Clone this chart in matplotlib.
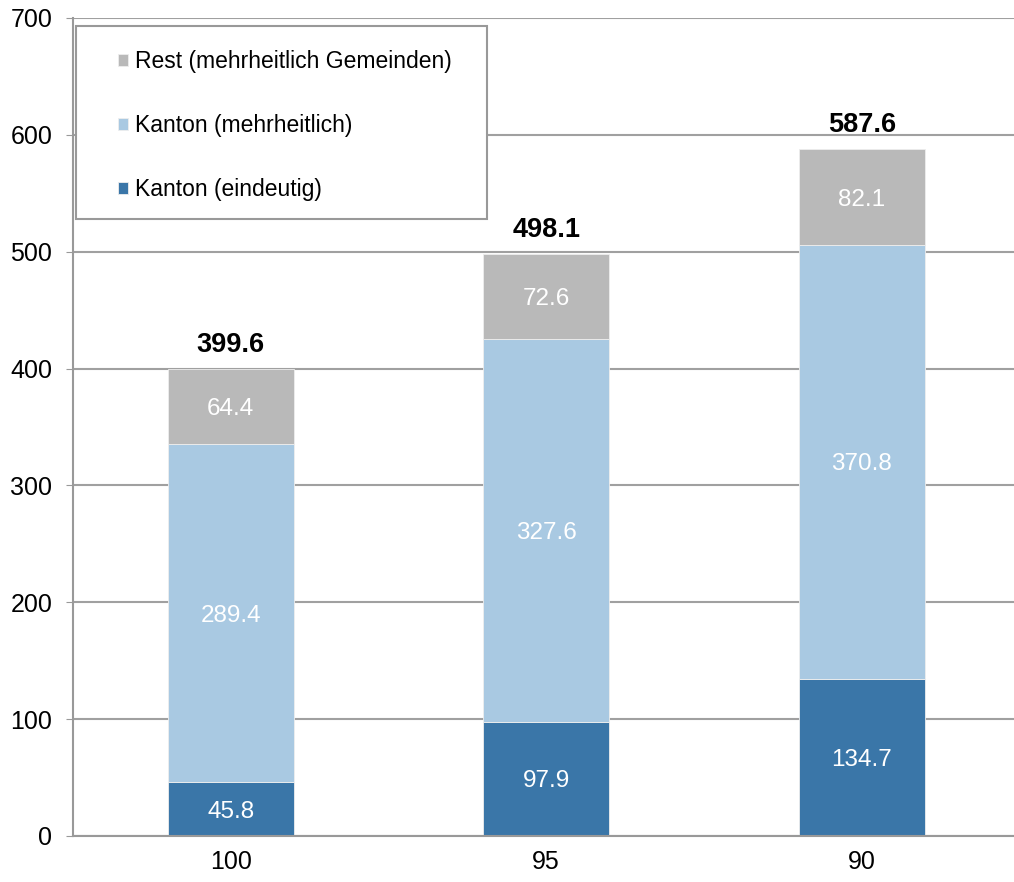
import matplotlib.pyplot as plt
from matplotlib.patches import Rectangle
import numpy as np

plt.rcParams['font.family'] = ['Liberation Sans', 'DejaVu Sans']

categories = ['100', '95', '90']
kanton_eindeutig = [45.8, 97.9, 134.7]
kanton_mehrheitlich = [289.4, 327.6, 370.8]
rest = [64.4, 72.6, 82.1]
series_labels = ['Kanton (eindeutig)', 'Kanton (mehrheitlich)', 'Rest (mehrheitlich Gemeinden)']
colors = ['#3a76a8', '#a9c9e2', '#b9b9b9']

fig = plt.figure(figsize=(10.14, 8.82), dpi=100)
ax = fig.add_axes([0.072, 0.0522, 0.9334, 0.9274])

x = np.arange(len(categories))
width = 0.40
bottom = np.zeros(len(categories))
bars = []
for vals, lab, col in zip([kanton_eindeutig, kanton_mehrheitlich, rest], series_labels, colors):
    b = ax.bar(x, vals, width, bottom=bottom, color=col, label=lab,
               edgecolor='#eeeeee', linewidth=0.6, zorder=2)
    for xi, v, b0 in zip(x, vals, bottom):
        ax.text(xi, b0 + v / 2, f'{v:.1f}', ha='center', va='center_baseline',
                color='white', fontsize=17.5, zorder=3)
    bottom = bottom + np.array(vals)
    bars.append(b)

# Summen oberhalb der Säulen
totals = bottom
for xi, t in zip(x, totals):
    ax.text(xi, t + 23, f'{t:.1f}', ha='center', va='center_baseline',
            fontsize=19.5, fontweight='bold', color='black')

ax.set_xlim(-0.5, 2.5)
ax.set_ylim(0, 700)
ax.set_yticks(range(0, 701, 100))
ax.set_xticks(x)
ax.set_xticklabels(categories)
ax.tick_params(axis='y', length=5, color='#999999', labelsize=18, pad=10)
ax.tick_params(axis='x', length=0, labelsize=18, pad=10)
ax.grid(axis='y', color='#a0a0a0', linewidth=1.5, zorder=0)
ax.set_axisbelow(True)
for s in ['top', 'right']:
    ax.spines[s].set_visible(False)
for s in ['left', 'bottom']:
    ax.spines[s].set_color('#999999')
    ax.spines[s].set_linewidth(1.5)

# Legendenrahmen separat, damit Innenabstände frei wählbar sind
box = Rectangle((0.003, 0.754), 0.434, 0.236, transform=ax.transAxes,
                facecolor='white', edgecolor='#999999', linewidth=1.5,
                zorder=5, clip_on=False)
ax.add_patch(box)

handles = bars[::-1]
leg = ax.legend(handles, series_labels[::-1], loc='upper left',
                bbox_to_anchor=(0.0475, 0.961), borderaxespad=0, borderpad=0,
                fontsize=16.5, labelspacing=1.8,
                handlelength=0.45, handleheight=0.45, handletextpad=0.3,
                frameon=False)
leg.set_zorder(6)

fig.savefig('out.png', dpi=100)
